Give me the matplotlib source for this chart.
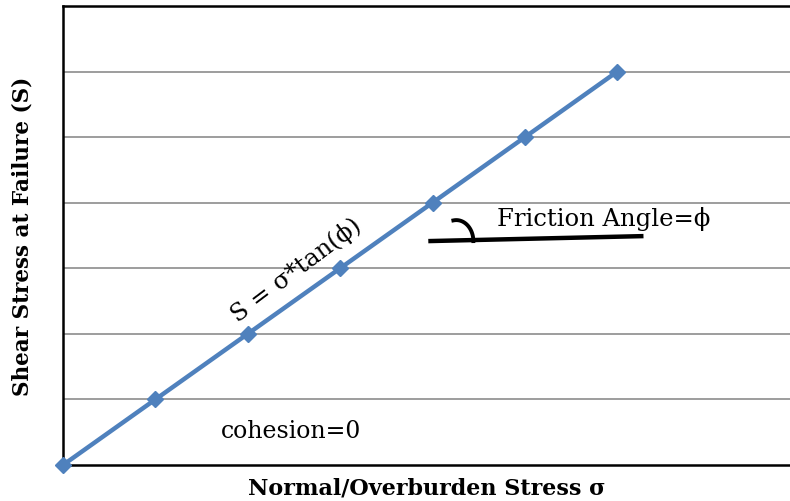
import numpy as np
import matplotlib.pyplot as plt

# datos de la recta de falla (cohesion = 0)
sigma = [0, 1, 2, 3, 4, 5, 6]
shear = [0, 1, 2, 3, 4, 5, 6]
grid_levels = [1, 2, 3, 4, 5, 6]

azul = '#4F81BD'
plt.rcParams['font.family'] = ['DejaVu Serif']

fig = plt.figure(figsize=(7.9, 5.02), dpi=100)
ax = fig.add_axes([63 / 790, 36 / 502, 1 - 63 / 790, 459 / 502])

ax.set_xlim(0, 7.87)
ax.set_ylim(0, 7)

# lineas de la cuadricula
for g in grid_levels:
    ax.axhline(g, color='#8c8c8c', linewidth=1.2, zorder=1)

ax.plot(sigma, shear, color=azul, linewidth=3.2, marker='D', markersize=8,
        markerfacecolor=azul, markeredgecolor=azul, clip_on=False, zorder=3)

# linea del angulo de friccion y el arco (en pixeles relativos)
px, py = 92.3, 65.6
ax.plot([(428 - 63) / px, (643 - 63) / px], [(466 - 242) / py, (466 - 237) / py],
        color='black', linewidth=3.2, solid_capstyle='butt', zorder=2)
t = np.linspace(np.radians(100), 0, 40)
cx, cy = 456 - 63, 466 - 242
ax.plot((cx + 17 * np.cos(t)) / px, (cy + 21 * np.sin(t)) / py,
        color='black', linewidth=2.8, zorder=2)

ax.text(5.85, 3.77, 'Friction Angle=ϕ', fontsize=17.5, ha='center', va='center')
ax.text(2.47, 0.52, 'cohesion=0', fontsize=17, ha='center', va='center')
ax.text(2.52, 2.98, 'S = σ*tan(ϕ)', fontsize=17.5, ha='center', va='center',
        rotation=37, rotation_mode='anchor')

ax.set_xticks([])
ax.set_yticks([])
for lado in ['left', 'bottom', 'top']:
    ax.spines[lado].set_color('black')
    ax.spines[lado].set_linewidth(1.8)
ax.spines['right'].set_visible(False)

ax.set_xlabel('Normal/Overburden Stress σ', fontsize=16, fontweight='bold', labelpad=8)
ax.set_ylabel('Shear Stress at Failure (S)', fontsize=15.5, fontweight='bold', labelpad=21)

fig.savefig('out.png', dpi=100)
